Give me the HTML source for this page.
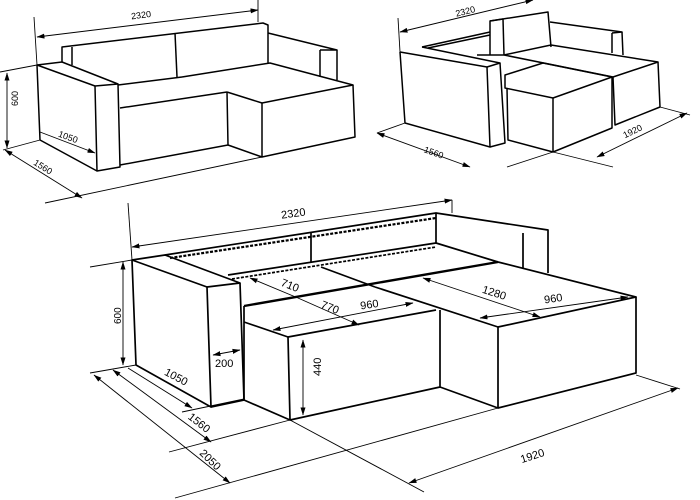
<!DOCTYPE html>
<html><head><meta charset="utf-8"><style>
html,body{margin:0;padding:0;background:#fff}
svg{display:block}
text{font-family:"Liberation Sans",sans-serif;fill:#000}
</style></head><body>
<svg width="700" height="500" viewBox="0 0 700 500" xmlns="http://www.w3.org/2000/svg">
<defs>
<marker id="a" markerWidth="8" markerHeight="6" refX="7.5" refY="3" orient="auto-start-reverse" markerUnits="userSpaceOnUse">
<path d="M0,0.5 L8,3 L0,5.5 Z" fill="#000"/></marker>
</defs>

<!-- ===== Top-left sofa ===== -->
<g stroke="#000" stroke-width="1.5" fill="none" stroke-linejoin="round">
<polyline points="62,62 62,47 263,23 268,25 268,63"/>
<line x1="72" y1="47" x2="72" y2="65"/>
<line x1="175" y1="33" x2="177" y2="77"/>
<polygon points="37,65 62,62 118,84 95,86"/>
<polyline points="95,86 97,171 120,167 118,84"/>
<polyline points="37,65 40,140 97,171"/>
<line x1="118" y1="85" x2="182" y2="77"/>
<line x1="120" y1="108" x2="227" y2="92"/>
<polyline points="227,92 228,145 120,165"/>
<polyline points="182,77 270,63 353,85 262,103 227,92"/>
<polyline points="262,103 262,157 355,137 353,85"/>
<line x1="228" y1="145" x2="262" y2="157"/>
<polyline points="268,33 337,50 320,50"/>
<line x1="320" y1="50" x2="320" y2="77"/>
<line x1="337" y1="50" x2="337" y2="80"/>
</g>
<g stroke="#000" stroke-width="0.9" fill="none">
<line x1="37" y1="37" x2="258" y2="10" marker-start="url(#a)" marker-end="url(#a)"/>
<line x1="34" y1="17" x2="37" y2="65"/>
<line x1="258" y1="0" x2="258" y2="22"/>
<line x1="7" y1="73" x2="7" y2="148" marker-start="url(#a)" marker-end="url(#a)"/>
<line x1="0" y1="72" x2="37" y2="65"/>
<line x1="3" y1="150" x2="40" y2="140"/>
<line x1="40" y1="132" x2="95" y2="153" marker-end="url(#a)"/>
<line x1="5" y1="150" x2="82" y2="198" marker-start="url(#a)" marker-end="url(#a)"/>
<line x1="45" y1="203" x2="262" y2="157"/>
</g>
<g font-size="9">
<text x="131" y="18" transform="rotate(-7 142 15)">2320</text>
<text x="16" y="112" transform="rotate(-90 14 108)">600</text>
<text x="58" y="140" transform="rotate(20 68 137)">1050</text>
<text x="33" y="170" transform="rotate(32 43 167)">1560</text>
</g>

<!-- ===== Top-right sofa ===== -->
<g stroke="#000" stroke-width="1.5" fill="none" stroke-linejoin="round">
<polyline points="400,52 487,67 500,63 422,47"/>
<line x1="422" y1="47" x2="490" y2="32"/>
<line x1="428" y1="48" x2="490" y2="35"/>
<polyline points="487,67 490,147 405,123 400,52"/>
<polyline points="500,63 505,143 490,147"/>
<polyline points="490,55 490,21 548,12 551,47"/>
<line x1="490" y1="21" x2="503" y2="19"/>
<line x1="503" y1="19" x2="504" y2="55"/>
<polyline points="550,22 622,32 612,33"/>
<line x1="612" y1="33" x2="612" y2="53"/>
<line x1="622" y1="32" x2="623" y2="55"/>
<polyline points="477,55 504,55 551,45 658,62 613,77 504,55"/>
<polyline points="658,62 660,107 615,125 613,77"/>
<polygon points="505,88 505,75 543,63 612,77 553,98"/>
<polyline points="507,88 508,140 553,152 612,128 612,77"/>
<line x1="553" y1="98" x2="553" y2="152"/>
</g>
<g stroke="#000" stroke-width="0.9" fill="none">
<line x1="400" y1="32" x2="533" y2="0" marker-start="url(#a)" marker-end="url(#a)"/>
<line x1="398" y1="18" x2="400" y2="52"/>
<line x1="377" y1="133" x2="470" y2="167" marker-start="url(#a)" marker-end="url(#a)"/>
<line x1="377" y1="133" x2="405" y2="123"/>
<line x1="597" y1="157" x2="687" y2="113" marker-start="url(#a)" marker-end="url(#a)"/>
<line x1="553" y1="152" x2="613" y2="167"/>
<line x1="660" y1="107" x2="690" y2="115"/>
<line x1="507" y1="167" x2="553" y2="152"/>
</g>
<g font-size="9">
<text x="455" y="14" transform="rotate(-14 467 10)">2320</text>
<text x="424" y="156" transform="rotate(20 435 152)">1560</text>
<text x="622" y="134" transform="rotate(-26 633 130)">1920</text>
</g>

<!-- ===== Main sofa ===== -->
<g stroke="#000" stroke-width="1.7" fill="none" stroke-linejoin="round">
<polygon points="132,260 165,255 240,283 207,287"/>
<polyline points="132,260 136,365 211,407 207,287"/>
<polyline points="211,407 244,400 240,283"/>
<polyline points="165,255 436,213 548,230 548,273"/>
<line x1="170" y1="258" x2="436" y2="218" stroke-dasharray="3 1.5" stroke-width="2.2"/>
<polyline points="436,213 436,243"/>
<polyline points="523,233 523,268"/>
<line x1="311" y1="233" x2="311" y2="263"/>
<line x1="228" y1="275" x2="436" y2="243"/>
<line x1="232" y1="279" x2="436" y2="247" stroke-dasharray="3 1.5"/>
<line x1="244" y1="306" x2="498" y2="262" stroke-width="2.4"/>
<polyline points="436,243 498,262 636,297 498,327 375,287"/>
<line x1="321" y1="267" x2="375" y2="287"/>
<polyline points="244,322 288,337 436,310"/>
<line x1="244" y1="306" x2="244" y2="400"/>
<polyline points="288,337 290,420 440,387 440,310"/>
<line x1="244" y1="400" x2="290" y2="420"/>
<polyline points="498,327 498,408 636,373 636,297"/>
<line x1="440" y1="387" x2="498" y2="408"/>
</g>
<g stroke="#000" stroke-width="0.9" fill="none">
<line x1="132" y1="247" x2="452" y2="200" marker-start="url(#a)" marker-end="url(#a)"/>
<line x1="128" y1="203" x2="132" y2="260"/>
<line x1="452" y1="200" x2="452" y2="213"/>
<line x1="123" y1="262" x2="123" y2="365" marker-start="url(#a)" marker-end="url(#a)"/>
<line x1="90" y1="267" x2="132" y2="260"/>
<line x1="128" y1="368" x2="192" y2="408" marker-end="url(#a)"/>
<line x1="213" y1="355" x2="240" y2="350" marker-start="url(#a)" marker-end="url(#a)"/>
<line x1="303" y1="340" x2="303" y2="415" marker-start="url(#a)" marker-end="url(#a)"/>
<line x1="113" y1="370" x2="211" y2="442" marker-start="url(#a)" marker-end="url(#a)"/>
<line x1="94" y1="375" x2="230" y2="483" marker-start="url(#a)" marker-end="url(#a)"/>
<line x1="409" y1="483" x2="678" y2="388" marker-start="url(#a)" marker-end="url(#a)"/>
<line x1="90" y1="373" x2="136" y2="365"/>
<line x1="182" y1="412" x2="244" y2="399"/>
<line x1="169" y1="452" x2="290" y2="420"/>
<line x1="175" y1="498" x2="498" y2="408"/>
<line x1="290" y1="420" x2="424" y2="492"/>
<line x1="636" y1="375" x2="680" y2="389"/>
<line x1="250" y1="278" x2="298" y2="298" marker-start="url(#a)"/>
<line x1="298" y1="298" x2="359" y2="325" marker-end="url(#a)"/>
<line x1="273" y1="330" x2="413" y2="303" marker-start="url(#a)" marker-end="url(#a)"/>
<line x1="423" y1="278" x2="540" y2="317" marker-start="url(#a)" marker-end="url(#a)"/>
<line x1="480" y1="318" x2="628" y2="297" marker-start="url(#a)" marker-end="url(#a)"/>
</g>
<g font-size="11">
<text x="281" y="217" transform="rotate(-8 294 213)">2320</text>
<text x="120" y="333" font-size="10" transform="rotate(-90 116 328)">600</text>
<text x="164" y="381" transform="rotate(28 177 377)">1050</text>
<text x="215" y="367">200</text>
<text x="317" y="392" transform="rotate(-90 311 382)">440</text>
<text x="187" y="427" transform="rotate(38 200 423)">1560</text>
<text x="198" y="464" transform="rotate(44 211 460)">2050</text>
<text x="520" y="459" transform="rotate(-18 534 455)">1920</text>
<text x="281" y="289" transform="rotate(22 290 285)">710</text>
<text x="321" y="311" transform="rotate(22 330 307)">770</text>
<text x="360" y="308" transform="rotate(-8 371 303)">960</text>
<text x="482" y="297" transform="rotate(18 496 293)">1280</text>
<text x="544" y="302" transform="rotate(-8 555 298)">960</text>
</g>
</svg>
</body></html>
